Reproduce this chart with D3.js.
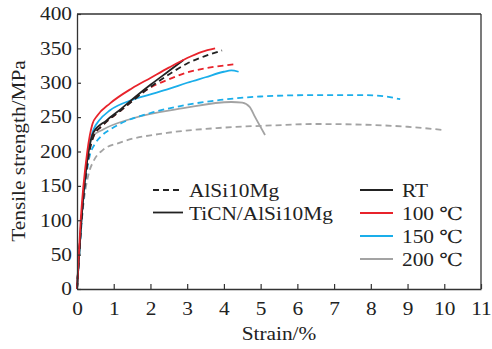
<!DOCTYPE html>
<html>
<head>
<meta charset="utf-8">
<script src="https://cdn.jsdelivr.net/npm/d3@7"></script>
<style>
  body { margin: 0; background: #fff; }
  svg text { font-family: "Liberation Serif", Tinos, "Times New Roman", Times, "DejaVu Serif", serif; fill: #222; }
</style>
</head>
<body>
<script>
// strain (%) / stress (MPa)
const tiRT   = [[0,0],[0.12,100],[0.3,195],[0.45,228],[0.8,245],[1.2,262],[1.6,280],[2.0,297],[2.5,317],[2.9,333]];
const alRT   = [[0,0],[0.12,100],[0.32,195],[0.45,222],[0.7,238],[1.2,260],[1.9,290],[2.5,312],[3.0,328],[3.5,339],[3.95,347]];
const ti100  = [[0,0],[0.1,100],[0.28,200],[0.42,240],[0.55,252],[0.9,270],[1.5,292],[2.0,307],[2.5,322],[3.0,336],[3.4,345],[3.76,350]];
const al100  = [[0,0],[0.12,100],[0.32,195],[0.45,222],[0.7,238],[1.2,260],[1.9,290],[2.5,305],[3.0,315],[3.5,321],[4.3,327]];
const ti150  = [[0,0],[0.12,100],[0.3,200],[0.45,232],[0.6,245],[0.9,260],[1.5,275],[2.0,283],[2.5,291],[3.0,300],[3.5,308],[4.0,316],[4.2,318],[4.4,316]];
const al150  = [[0,0],[0.13,100],[0.33,190],[0.5,212],[0.65,222],[0.9,232],[1.2,241],[2.0,256],[3.0,268],[3.9,275],[5.0,280],[6.4,282],[7.8,282],[8.4,280],[8.8,276]];
const ti200  = [[0,0],[0.12,100],[0.3,195],[0.42,222],[0.71,232],[1.5,248],[2.9,263],[4.2,272],[4.5,271],[4.7,265],[4.85,250],[5.12,224]];
const al200  = [[0,0],[0.13,100],[0.33,170],[0.44,185],[0.7,202],[1.17,213],[2.45,227],[3.8,234],[5.35,238],[6.5,240],[7.8,239],[9.0,236],[10.03,231]];

const xTicks = [0,1,2,3,4,5,6,7,8,9,10,11];
const yTicks = [0,50,100,150,200,250,300,350,400];
const tempLabels = ["RT","100 ℃","150 ℃","200 ℃"];
const tempColors = ["#222222","#e8232b","#1aaeea","#a3a3a3"];
const matLabels = ["AlSi10Mg","TiCN/AlSi10Mg"];

const series = [
  {d: al200, c: 3, dash: true},
  {d: ti200, c: 3, dash: false},
  {d: al150, c: 2, dash: true},
  {d: ti150, c: 2, dash: false},
  {d: al100, c: 1, dash: true},
  {d: alRT,  c: 0, dash: true},
  {d: tiRT,  c: 0, dash: false},
  {d: ti100, c: 1, dash: false}
];

const width = 492, height = 349;
const m = {left: 77, right: 11, top: 14, bottom: 60};

const svg = d3.select("body").append("svg")
  .attr("width", width).attr("height", height);

const x = d3.scaleLinear().domain([0, 11]).range([m.left, width - m.right]);
const y = d3.scaleLinear().domain([0, 400]).range([height - m.bottom, m.top]);

const line = d3.line()
  .x(d => x(d[0])).y(d => y(d[1]))
  .curve(d3.curveMonotoneX);

svg.selectAll("path.curve")
  .data(series)
  .join("path")
  .attr("class", "curve")
  .attr("d", s => line(s.d))
  .attr("fill", "none")
  .attr("stroke", s => tempColors[s.c])
  .attr("stroke-width", 1.8)
  .attr("stroke-dasharray", s => s.dash ? "6,4" : null);

// axes with inward ticks
const gx = svg.append("g")
  .attr("transform", `translate(0,${y(0)})`)
  .call(d3.axisBottom(x).tickValues(xTicks).tickSize(-5).tickSizeOuter(0).tickPadding(13));
const gy = svg.append("g")
  .attr("transform", `translate(${x(0)},0)`)
  .call(d3.axisLeft(y).tickValues(yTicks).tickSize(-4).tickSizeOuter(0).tickPadding(5));

[gx, gy].forEach(g => {
  g.attr("font-family", null);
  g.select(".domain").attr("stroke", "#333").attr("stroke-width", 1.3);
  g.selectAll(".tick line").attr("stroke", "#333").attr("stroke-width", 1.2);
  g.selectAll(".tick text").attr("font-size", 18).attr("fill", "#222");
});

// top and right frame
svg.append("line")
  .attr("x1", x(0)).attr("x2", x(11)).attr("y1", y(400)).attr("y2", y(400))
  .attr("stroke", "#333").attr("stroke-width", 1.3);
svg.append("line")
  .attr("x1", x(11)).attr("x2", x(11)).attr("y1", y(400)).attr("y2", y(0))
  .attr("stroke", "#333").attr("stroke-width", 1.3);

// axis titles
svg.append("text")
  .attr("x", 279).attr("y", 340)
  .attr("text-anchor", "middle").attr("font-size", 18)
  .text("Strain/%");
svg.append("text")
  .attr("transform", "translate(25,151) rotate(-90)")
  .attr("text-anchor", "middle").attr("font-size", 18)
  .text("Tensile strength/MPa");

// legend: material (line style)
const lg1 = svg.append("g");
matLabels.forEach((t, i) => {
  const ly = 190 + i * 22.5;
  lg1.append("line")
    .attr("x1", 153).attr("x2", 183).attr("y1", ly).attr("y2", ly)
    .attr("stroke", "#222").attr("stroke-width", 1.8)
    .attr("stroke-dasharray", i === 0 ? "6,4" : null);
  lg1.append("text")
    .attr("x", 189).attr("y", ly + 7).attr("font-size", 18)
    .text(t);
});

// legend: temperature (colour)
const lg2 = svg.append("g");
tempLabels.forEach((t, i) => {
  const ly = 190 + i * 23;
  lg2.append("line")
    .attr("x1", 360).attr("x2", 393).attr("y1", ly).attr("y2", ly)
    .attr("stroke", tempColors[i]).attr("stroke-width", 2);
  lg2.append("text")
    .attr("x", 402).attr("y", ly + 7).attr("font-size", 18)
    .text(t);
});

// the original lettering is wider than the installed serif: "400" is ~32px wide there
const probe = svg.append("text").attr("font-size", 18).text("400");
const stretch = 32 / probe.node().getComputedTextLength();
probe.remove();
svg.selectAll("text").each(function() {
  const w = this.getComputedTextLength();
  d3.select(this).attr("textLength", w * stretch).attr("lengthAdjust", "spacingAndGlyphs");
});
</script>
</body>
</html>
